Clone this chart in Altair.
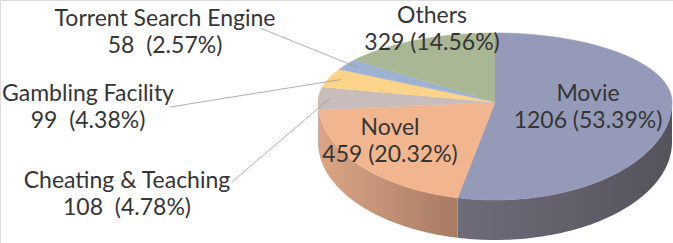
import altair as alt
import pandas as pd

# ---- data -------------------------------------------------------------
categories = ["Movie", "Novel", "Cheating & Teaching", "Gambling Facility",
              "Torrent Search Engine", "Others"]
counts = [1206, 459, 108, 99, 58, 329]

# ---- styles -----------------------------------------------------------
top_colors = ["#959ab9", "#f1b690", "#c8bdbb", "#fbd489", "#9fb1d1", "#a9b795"]
# rim shading: light (left) -> dark (right)
side_light = ["#6f6b79", "#dba685", "#ada2a0", "#d6b274", "#7f8fae", "#8a9878"]
side_dark = ["#57535d", "#a77a64", "#988d8b", "#b89865", "#6c7b98", "#778566"]
TEXT_COLOR = "#353535"
FONT = "Lato"
FONT_SIZE = 23
LINE_GAP = 27

# ---- layout (pixels) --------------------------------------------------
W, H = 673, 243
CX, CY = 495, 102          # pie centre
RX = 177                   # horizontal radius
RY_BACK, RY_FRONT = 69, 98 # vertical radius behind / in front of the centre
DEPTH = 40                 # thickness of the disc
STEPS = 80                 # points per slice outline

# centre of each two-line label block, and where its leader line ends
label_pos = [(588, 107), (390, 141), (127, 194), (88, 107), (165, 32), (432, 29)]
leader_end = [None, None, (232, 182), (170, 107), (260, 28), None]

total = sum(counts)
rows = []
for i, (cat, c) in enumerate(zip(categories, counts)):
    pct = f"{100 * c / total:.2f}%"
    sep = "\u00a0 " if leader_end[i] else " "
    lx, ly = label_pos[i]
    ex, ey = leader_end[i] if leader_end[i] else (None, None)
    rows.append(dict(category=cat, count=c, idx=i, line1=cat,
                     line2=f"{c}{sep}({pct})", top=top_colors[i],
                     lx=lx, ly=ly, ex=ex, ey=ey))
df = pd.DataFrame(rows)

xs = alt.Scale(domain=[0, W], nice=False, zero=False)
ys = alt.Scale(domain=[0, H], nice=False, zero=False, reverse=True)

base = (
    alt.Chart(df)
    .transform_joinaggregate(total="sum(count)")
    .transform_window(cum="sum(count)", sort=[alt.SortField("idx")], frame=[None, 0])
    .transform_calculate(
        t0="2*PI*(datum.cum-datum.count)/datum.total",
        t1="2*PI*datum.cum/datum.total",
    )
)


def rim(i):
    """Visible rim (front half of the disc) of slice i."""
    return (
        base.transform_filter(f"datum.idx == {i}")
        .transform_calculate(s="max(datum.t0, PI/2)", e="min(datum.t1, 3*PI/2)")
        .transform_filter("datum.s < datum.e")
        .transform_calculate(k=f"sequence(0, {2 * STEPS + 2})")
        .transform_flatten(["k"])
        .transform_calculate(
            th=f"datum.k <= {STEPS} ? datum.s + (datum.e - datum.s) * datum.k / {STEPS}"
               f" : datum.e - (datum.e - datum.s) * (datum.k - {STEPS} - 1) / {STEPS}",
            drop=f"datum.k <= {STEPS} ? 0 : {DEPTH}",
        )
        .transform_calculate(
            px=f"{CX} + {RX} * sin(datum.th)",
            py=f"{CY} - cos(datum.th) * {RY_FRONT} + datum.drop",
        )
        .mark_line(
            strokeWidth=0,
            fill=alt.Gradient(
                gradient="linear", x1=0, x2=1, y1=0, y2=0,
                stops=[alt.GradientStop(color=side_light[i], offset=0),
                       alt.GradientStop(color=side_dark[i], offset=1)],
            ),
        )
        .encode(
            x=alt.X("px:Q", scale=xs, axis=None),
            y=alt.Y("py:Q", scale=ys, axis=None),
            order="k:Q",
        )
    )


sides = [rim(i) for i in range(len(categories))]

# top face of each slice
top = (
    base.transform_calculate(k=f"sequence(0, {STEPS + 2})")
    .transform_flatten(["k"])
    .transform_calculate(th=f"datum.t0 + (datum.t1 - datum.t0) * (datum.k - 1) / {STEPS}")
    .transform_calculate(
        px=f"datum.k == 0 ? {CX} : {CX} + {RX} * sin(datum.th)",
        py=f"datum.k == 0 ? {CY} : {CY} - cos(datum.th) * "
           f"(cos(datum.th) > 0 ? {RY_BACK} : {RY_FRONT})",
    )
    .mark_line(strokeWidth=0.6, strokeJoin="round")
    .encode(
        x=alt.X("px:Q", scale=xs, axis=None),
        y=alt.Y("py:Q", scale=ys, axis=None),
        order="k:Q",
        fill=alt.Fill("top:N", scale=None),
        stroke=alt.Stroke("top:N", scale=None),
        detail="category:N",
    )
)

# leader lines from the small slices to their labels
leaders = (
    base.transform_filter("isValid(datum.ex)")
    .transform_calculate(mid="(datum.t0 + datum.t1) / 2")
    .transform_calculate(
        mx=f"{CX} + {RX} * 0.93 * sin(datum.mid)",
        my=f"{CY} - cos(datum.mid) * {RY_BACK} * 0.93",
    )
    .mark_rule(color="#9a9a9a", strokeWidth=0.8)
    .encode(
        x=alt.X("mx:Q", scale=xs, axis=None),
        y=alt.Y("my:Q", scale=ys, axis=None),
        x2="ex:Q",
        y2="ey:Q",
    )
)

text_common = dict(font=FONT, fontSize=FONT_SIZE, color=TEXT_COLOR,
                   align="center", baseline="middle")
label1 = alt.Chart(df).mark_text(dy=-LINE_GAP / 2, **text_common).encode(
    x=alt.X("lx:Q", scale=xs, axis=None),
    y=alt.Y("ly:Q", scale=ys, axis=None),
    text="line1:N",
)
label2 = alt.Chart(df).mark_text(dy=LINE_GAP / 2, **text_common).encode(
    x=alt.X("lx:Q", scale=xs, axis=None),
    y=alt.Y("ly:Q", scale=ys, axis=None),
    text="line2:N",
)

chart = (
    alt.layer(*sides, top, leaders, label1, label2)
    .properties(width=W, height=H, padding=0, autosize=alt.AutoSizeParams(type="none"))
    .configure_view(stroke=None)
    .configure(background="white")
)

chart.save("out.html", embed_options={"renderer": "svg", "actions": False})
